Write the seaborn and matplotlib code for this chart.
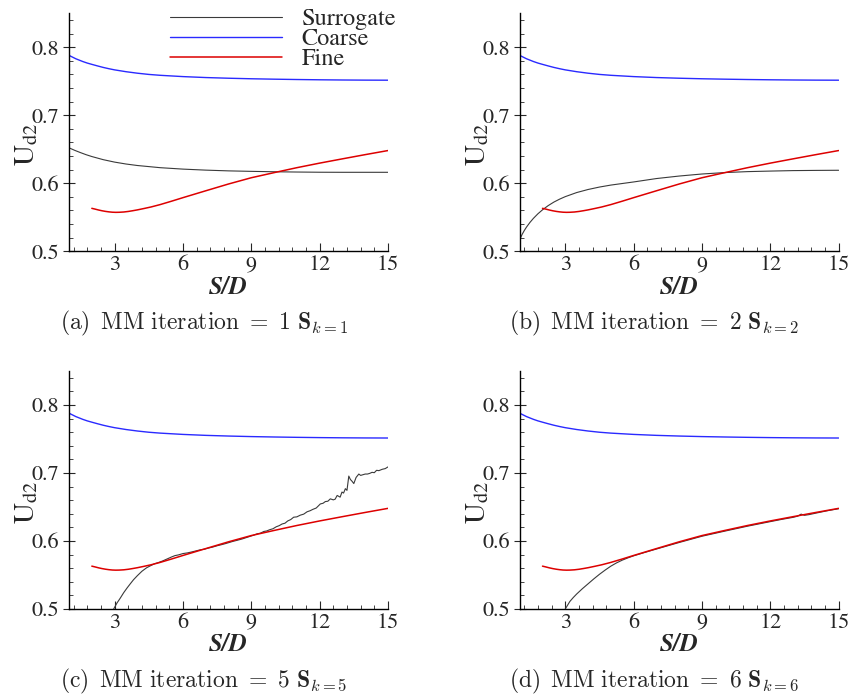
import numpy as np
import pandas as pd
import matplotlib
matplotlib.use("Agg")
import matplotlib.pyplot as plt
from matplotlib.ticker import MultipleLocator
import seaborn as sns

# Coarse model (same in every panel)
coarse_x = [1, 1.15, 1.3, 1.45, 1.6, 1.8, 2, 2.25, 2.5, 2.75, 3, 3.5, 4, 4.5, 5, 6, 7,
            8, 9, 10, 11, 12, 13, 14, 15]
coarse_y = [0.788, 0.7855, 0.783, 0.781, 0.779, 0.7767, 0.7748, 0.7725, 0.7703,
            0.7684, 0.7667, 0.764, 0.7618, 0.76, 0.7587, 0.7568, 0.7554, 0.7544,
            0.7536, 0.753, 0.7525, 0.7521, 0.7518, 0.7516, 0.7515]

# Fine model (same in every panel)
fine_x = [2.0, 2.15, 2.3, 2.45, 2.6, 2.75, 2.9, 3.05, 3.2, 3.4, 3.6, 3.8, 4.0, 4.3,
          4.6, 5, 5.5, 6, 7, 8, 9, 10, 11, 12, 13, 14, 15]
fine_y = [0.563, 0.5618, 0.5605, 0.5594, 0.5585, 0.5578, 0.5573, 0.5571, 0.5572,
          0.5576, 0.5584, 0.5595, 0.5607, 0.5628, 0.565, 0.5685, 0.5735, 0.5787,
          0.5888, 0.5988, 0.608, 0.6155, 0.6228, 0.6295, 0.6358, 0.642, 0.648]

# Surrogate per MM iteration
sur1_x = [1, 1.25, 1.5, 1.75, 2, 2.5, 3, 3.5, 4, 5, 6, 7, 8, 9, 10, 11, 12, 13, 14, 15]
sur1_y = [0.652, 0.6483, 0.645, 0.6419, 0.6392, 0.6346, 0.631, 0.6282, 0.626,
          0.6228, 0.6207, 0.6192, 0.6181, 0.6174, 0.6168, 0.6164, 0.6161, 0.616,
          0.616, 0.616]

sur2_x = [1, 1.05, 1.1, 1.2, 1.3, 1.45, 1.6, 1.8, 2, 2.25, 2.5, 2.75, 3, 3.5, 4, 4.5,
          5, 6, 7, 8, 9, 10, 11, 12, 13, 14, 15]
sur2_y = [0.516, 0.5205, 0.5243, 0.5303, 0.5355, 0.5423, 0.5482, 0.555, 0.5608,
          0.567, 0.5722, 0.5765, 0.5802, 0.5862, 0.5907, 0.5943, 0.5972, 0.6018,
          0.6068, 0.6105, 0.6135, 0.6156, 0.617, 0.6178, 0.6185, 0.6188, 0.619]

sur5_x = [2.96, 3.1, 3.25, 3.4, 3.55, 3.7, 3.83, 4.0, 4.2, 4.4, 4.57, 4.75, 4.9, 5.1,
          5.3, 5.5, 5.65, 5.8, 6.0, 6.2, 6.4, 6.58, 6.76, 6.95, 7.1, 7.3, 7.5, 7.68,
          7.85, 8.0, 8.2, 8.4, 8.6, 8.78, 8.96, 9.1, 9.25, 9.4, 9.55, 9.68, 9.8, 9.95,
          10.1, 10.22, 10.35, 10.48, 10.6, 10.73, 10.86, 11.0, 11.15, 11.3, 11.45,
          11.58, 11.7, 11.85, 12.03, 12.15, 12.25, 12.36, 12.47, 12.6, 12.68, 12.77,
          12.9, 12.98, 13.05, 13.13, 13.2, 13.28, 13.35, 13.42, 13.5, 13.6, 13.72,
          13.8, 13.9, 14.0, 14.1, 14.2, 14.3, 14.4, 14.5, 14.6, 14.75, 14.88, 15.0]
sur5_y = [0.500, 0.5085, 0.516, 0.524, 0.531, 0.5375, 0.543, 0.549, 0.5555, 0.5605,
          0.5635, 0.5665, 0.568, 0.5705, 0.5735, 0.5765, 0.5785, 0.5795, 0.5815,
          0.5825, 0.584, 0.5855, 0.587, 0.588, 0.5895, 0.591, 0.593, 0.5945, 0.596,
          0.5975, 0.5995, 0.6012, 0.603, 0.605, 0.607, 0.6085, 0.6105, 0.6115, 0.614,
          0.6148, 0.6165, 0.618, 0.621, 0.6225, 0.625, 0.6262, 0.6295, 0.6315,
          0.635, 0.6355, 0.638, 0.6395, 0.643, 0.6445, 0.6465, 0.6485, 0.6545,
          0.6555, 0.658, 0.6585, 0.662, 0.6605, 0.6615, 0.667, 0.6645, 0.672,
          0.6705, 0.677, 0.6745, 0.6955, 0.6905, 0.688, 0.6845, 0.6935, 0.6985,
          0.6965, 0.6975, 0.6985, 0.6985, 0.6995, 0.701, 0.7005, 0.704, 0.7035,
          0.7055, 0.7065, 0.709]

sur6_x = [3, 3.1, 3.2, 3.35, 3.5, 3.75, 4, 4.25, 4.5, 4.75, 5, 5.25, 5.5, 5.75, 6, 6.5,
          7, 8, 9, 10, 11, 12, 12.5, 13, 13.2, 13.35, 13.5, 13.7, 14, 14.5, 15]
sur6_y = [0.500, 0.5055, 0.511, 0.5168, 0.522, 0.5298, 0.537, 0.5442, 0.551, 0.5572,
          0.563, 0.5678, 0.5718, 0.5752, 0.5782, 0.5833, 0.5882, 0.5978, 0.607,
          0.6145, 0.6218, 0.6285, 0.6318, 0.6348, 0.6365, 0.6395, 0.6378, 0.6388,
          0.641, 0.6445, 0.6475]

surrogates = [(sur1_x, sur1_y), (sur2_x, sur2_y), (sur5_x, sur5_y), (sur6_x, sur6_y)]
captions = [r"$\mathrm{(a)\,\ MM\ iteration}\ =\ 1\ \mathbf{S}_{k=1}$",
            r"$\mathrm{(b)\,\ MM\ iteration}\ =\ 2\ \mathbf{S}_{k=2}$",
            r"$\mathrm{(c)\,\ MM\ iteration}\ =\ 5\ \mathbf{S}_{k=5}$",
            r"$\mathrm{(d)\,\ MM\ iteration}\ =\ 6\ \mathbf{S}_{k=6}$"]

sns.set_style("ticks")
plt.rcParams['font.family'] = ['STIXGeneral', 'DejaVu Serif']

fig, axes = plt.subplots(2, 2, figsize=(8.48, 6.97), dpi=100)
fig.subplots_adjust(left=0.0814, right=0.989, top=0.981, bottom=0.1263,
                    wspace=0.413, hspace=0.504)

for i, ax in enumerate(axes.flat):
    sx, sy = surrogates[i]
    sns.lineplot(x=sx, y=sy, ax=ax, color="#3a3a3a", lw=0.8, sort=False,
                 estimator=None, label="Surrogate")
    sns.lineplot(x=coarse_x, y=coarse_y, ax=ax, color="#2a2aff", lw=1.0, sort=False,
                 estimator=None, label="Coarse")
    sns.lineplot(x=fine_x, y=fine_y, ax=ax, color="#dd0000", lw=1.1, sort=False,
                 estimator=None, label="Fine")

    ax.set_xlim(1, 15)
    ax.set_ylim(0.5, 0.85)
    ax.xaxis.set_major_locator(MultipleLocator(3))
    ax.xaxis.set_minor_locator(MultipleLocator(0.6))
    ax.set_yticks([0.5, 0.6, 0.7, 0.8])
    ax.yaxis.set_minor_locator(MultipleLocator(0.02))
    ax.tick_params(which='major', direction='in', length=6, width=0.8,
                   labelsize=16, pad=3)
    ax.tick_params(axis='y', which='major', direction='inout', length=8)
    ax.tick_params(which='minor', direction='in', length=3, width=0.6)
    sns.despine(ax=ax)
    for s in ['left', 'bottom']:
        ax.spines[s].set_linewidth(1.0)
        ax.spines[s].set_color('black')

    ax.set_xlabel("S/D", fontsize=18, fontweight='bold', fontstyle='italic', labelpad=0)
    ax.set_ylabel(r"$\mathrm{U}_{\mathrm{d2}}$", fontsize=21, math_fontfamily='stix')
    ax.yaxis.set_label_coords(-0.09, 0.45)

    if i == 0:
        ax.legend(loc='upper right', bbox_to_anchor=(1.025, 1.022), frameon=False,
                  fontsize=17.5, handlelength=4.6, handletextpad=0.8,
                  labelspacing=-0.08, borderpad=0, borderaxespad=0)
    else:
        ax.get_legend().remove()

cap_pos = [(204, 323), (654, 323), (204, 681), (654, 681)]
for (cx, cy), cap in zip(cap_pos, captions):
    fig.text(cx / 848, 1 - cy / 697, cap, ha='center', va='center', fontsize=17,
             math_fontfamily='cm')

fig.savefig("out.png", dpi=100, facecolor='white')
